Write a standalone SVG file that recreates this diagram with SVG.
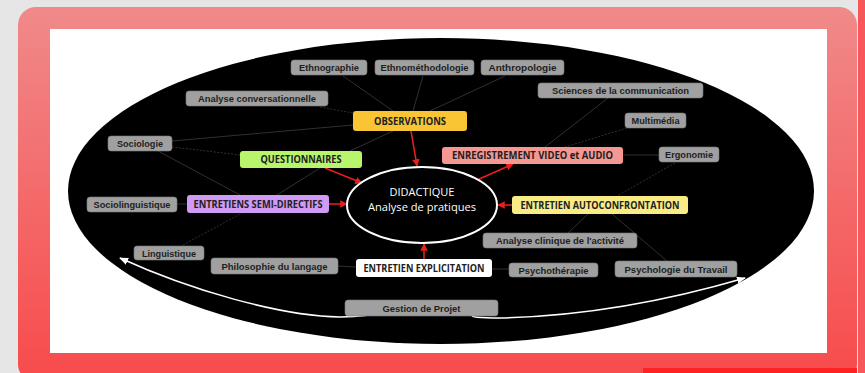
<svg xmlns="http://www.w3.org/2000/svg" width="865" height="373" viewBox="0 0 865 373">
<defs>
<linearGradient id="frameGrad" x1="0" y1="0" x2="0" y2="1">
<stop offset="0" stop-color="#f08a8a"/>
<stop offset="1" stop-color="#f84a4b"/>
</linearGradient>
<marker id="redHead" viewBox="0 0 10 10" refX="9" refY="5" markerWidth="5" markerHeight="5" orient="auto">
<path d="M0,0 L10,5 L0,10 z" fill="#e8201c"/>
</marker>
<marker id="whiteHead" viewBox="0 0 10 10" refX="9" refY="5" markerWidth="6" markerHeight="6" orient="auto">
<path d="M0,1 L10,5 L0,9 z" fill="#ffffff"/>
</marker>
</defs>
<style>
.g rect{fill:#a0a0a0;stroke:#7a7a7a;stroke-width:0.6}
.g text{font-family:"Liberation Sans",Arial,sans-serif;font-weight:bold;font-size:9.5px;fill:#1e1e1e;text-anchor:middle}
.c text{font-family:"Open Sans","Liberation Sans",sans-serif;font-weight:bold;font-size:10px;fill:#202020;text-anchor:middle}
.c rect{stroke:none}
.red{stroke:#e8201c;stroke-width:1.5;fill:none;marker-end:url(#redHead)}
.thin{stroke:#3c3c3c;stroke-width:0.8;fill:none}
.dash{stroke:#3c3c3c;stroke-width:0.8;fill:none;stroke-dasharray:2,1.5}
.wc{stroke:#ffffff;stroke-width:1.5;fill:none;marker-end:url(#whiteHead)}
</style>
<rect x="0" y="0" width="865" height="373" fill="#e6e6e6"/>
<rect x="18" y="7" width="839" height="375" rx="18" fill="url(#frameGrad)"/>
<rect x="858" y="0" width="7" height="373" fill="#f7575a"/>
<rect x="643" y="368" width="214" height="5" fill="#ff2222"/>
<rect x="50" y="29" width="777" height="324" fill="#ffffff"/>
<ellipse cx="441" cy="191" rx="373" ry="153" fill="#000000"/>

<g id="connectors">
<line class="thin" x1="343" y1="76" x2="393" y2="111"/>
<line class="thin" x1="423" y1="76" x2="413" y2="111"/>
<line class="thin" x1="505" y1="76" x2="430" y2="111"/>
<line class="dash" x1="320" y1="107" x2="353" y2="113"/>
<line class="thin" x1="172" y1="141" x2="353" y2="125"/>
<line class="dash" x1="172" y1="147" x2="240" y2="155"/>
<line class="thin" x1="158" y1="151" x2="240" y2="195"/>
<line class="thin" x1="393" y1="131" x2="350" y2="151"/>
<line class="thin" x1="320" y1="168" x2="277" y2="195"/>
<line class="thin" x1="177" y1="204" x2="187" y2="204"/>
<line class="dash" x1="183" y1="245" x2="242" y2="213"/>
<line class="thin" x1="338" y1="266" x2="356" y2="267"/>
<line class="thin" x1="492" y1="269" x2="509" y2="269"/>
<line class="thin" x1="608" y1="98" x2="545" y2="147"/>
<line class="dash" x1="627" y1="128" x2="565" y2="147"/>
<line class="thin" x1="659" y1="155" x2="623" y2="155"/>
<line class="dash" x1="675" y1="163" x2="617" y2="196"/>
<line class="thin" x1="568" y1="233" x2="588" y2="214"/>
<line class="thin" x1="667" y1="261" x2="612" y2="214"/>
<line class="red" x1="411" y1="131" x2="417" y2="166"/>
<line class="red" x1="325" y1="168" x2="362" y2="183"/>
<line class="red" x1="329" y1="204" x2="347" y2="204"/>
<line class="red" x1="477" y1="180" x2="513" y2="164"/>
<line class="red" x1="512" y1="205" x2="498" y2="205"/>
<line class="red" x1="424" y1="259" x2="424" y2="244"/>
<path class="wc" d="M367,314 Q372,316 340,317 C280,316 190,290 120,258"/>
<path class="wc" d="M473,315 Q468,318 500,318 C590,316 670,300 745,278"/>
</g>

<g id="didactique">
<ellipse cx="422" cy="205" rx="75" ry="38" fill="#000" stroke="#ffffff" stroke-width="2"/>
<text x="422" y="196" font-family="'Open Sans','Liberation Sans',sans-serif" font-size="11.5" fill="#ffffff" text-anchor="middle" textLength="65" lengthAdjust="spacingAndGlyphs">DIDACTIQUE</text>
<text x="422" y="211" font-family="'Open Sans','Liberation Sans',sans-serif" font-size="11.5" fill="#ffffff" text-anchor="middle" textLength="108" lengthAdjust="spacingAndGlyphs">Analyse de pratiques</text>
</g>

<g id="observations" class="c"><rect x="353" y="111" width="114" height="20" rx="3" fill="#f9c535"/><text x="410" y="124.8" textLength="72" lengthAdjust="spacingAndGlyphs">OBSERVATIONS</text></g>
<g id="questionnaires" class="c"><rect x="240" y="151" width="122" height="17" rx="3" fill="#b9f46d"/><text x="301" y="163.3" textLength="81" lengthAdjust="spacingAndGlyphs">QUESTIONNAIRES</text></g>
<g id="enregistrement" class="c"><rect x="442" y="147" width="181" height="17" rx="3" fill="#f59893"/><text x="532.5" y="159.3" textLength="161" lengthAdjust="spacingAndGlyphs">ENREGISTREMENT VIDEO et AUDIO</text></g>
<g id="semi-directifs" class="c"><rect x="187" y="195" width="142" height="18" rx="3" fill="#d09af5"/><text x="258" y="207.8" textLength="129" lengthAdjust="spacingAndGlyphs">ENTRETIENS SEMI-DIRECTIFS</text></g>
<g id="autoconfrontation" class="c"><rect x="512" y="196" width="176" height="18" rx="3" fill="#f9ec87"/><text x="600" y="208.8" textLength="159" lengthAdjust="spacingAndGlyphs">ENTRETIEN AUTOCONFRONTATION</text></g>
<g id="explicitation" class="c"><rect x="356" y="259" width="136" height="18" rx="3" fill="#ffffff"/><text x="424" y="272.3" font-weight="normal" textLength="121" lengthAdjust="spacingAndGlyphs">ENTRETIEN EXPLICITATION</text></g>

<g id="ethnographie" class="g"><rect x="291" y="60" width="76" height="15" rx="3"/><text x="329" y="71" textLength="60" lengthAdjust="spacingAndGlyphs">Ethnographie</text></g>
<g id="ethnomethodologie" class="g"><rect x="375" y="60" width="99" height="15" rx="3"/><text x="424.5" y="71" textLength="88" lengthAdjust="spacingAndGlyphs">Ethnométhodologie</text></g>
<g id="anthropologie" class="g"><rect x="481" y="60" width="83" height="15" rx="3"/><text x="522.5" y="71" textLength="68" lengthAdjust="spacingAndGlyphs">Anthropologie</text></g>
<g id="sciences-communication" class="g"><rect x="538" y="83" width="165" height="15" rx="3"/><text x="620.5" y="94" textLength="137" lengthAdjust="spacingAndGlyphs">Sciences de la communication</text></g>
<g id="analyse-conversationnelle" class="g"><rect x="186" y="91" width="142" height="15" rx="3"/><text x="257" y="102" textLength="118" lengthAdjust="spacingAndGlyphs">Analyse conversationnelle</text></g>
<g id="multimedia" class="g"><rect x="625" y="113" width="61" height="15" rx="3"/><text x="655.5" y="124" textLength="48" lengthAdjust="spacingAndGlyphs">Multimédia</text></g>
<g id="sociologie" class="g"><rect x="108" y="136" width="64" height="15" rx="3"/><text x="140" y="147" textLength="46" lengthAdjust="spacingAndGlyphs">Sociologie</text></g>
<g id="ergonomie" class="g"><rect x="659" y="147" width="60" height="15" rx="3"/><text x="689" y="158" textLength="48" lengthAdjust="spacingAndGlyphs">Ergonomie</text></g>
<g id="sociolinguistique" class="g"><rect x="87" y="197" width="90" height="15" rx="3"/><text x="132" y="208" textLength="77" lengthAdjust="spacingAndGlyphs">Sociolinguistique</text></g>
<g id="analyse-clinique" class="g"><rect x="483" y="233" width="154" height="15" rx="3"/><text x="560" y="244" textLength="128" lengthAdjust="spacingAndGlyphs">Analyse clinique de l'activité</text></g>
<g id="linguistique" class="g"><rect x="134" y="246" width="70" height="14" rx="3"/><text x="169" y="256.5" textLength="54" lengthAdjust="spacingAndGlyphs">Linguistique</text></g>
<g id="philosophie-langage" class="g"><rect x="211" y="258" width="127" height="16" rx="3"/><text x="274.5" y="269.5" textLength="106" lengthAdjust="spacingAndGlyphs">Philosophie du langage</text></g>
<g id="psychotherapie" class="g"><rect x="509" y="263" width="89" height="14" rx="3"/><text x="553.5" y="273.5" textLength="70" lengthAdjust="spacingAndGlyphs">Psychothérapie</text></g>
<g id="psychologie-travail" class="g"><rect x="615" y="261" width="122" height="16" rx="3"/><text x="676" y="272.5" textLength="103" lengthAdjust="spacingAndGlyphs">Psychologie du Travail</text></g>
<g id="gestion-projet" class="g"><rect x="345" y="300" width="153" height="16" rx="3"/><text x="421.5" y="311.5" textLength="78" lengthAdjust="spacingAndGlyphs">Gestion de Projet</text></g>
</svg>
